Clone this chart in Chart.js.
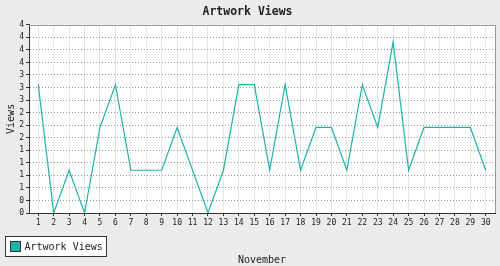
<!DOCTYPE html>
<html>
<head>
<meta charset="utf-8">
<script src="https://cdn.jsdelivr.net/npm/chart.js@4"></script>
<style>
html, body { margin: 0; padding: 0; background: #ebebeb; }
canvas { display: block; }
</style>
</head>
<body>
<canvas id="myChart" width="500" height="266"></canvas>
<script>
// dados do gráfico
const dias = [1, 2, 3, 4, 5, 6, 7, 8, 9, 10, 11, 12, 13, 14, 15, 16, 17, 18, 19, 20, 21, 22, 23, 24, 25, 26, 27, 28, 29, 30]
const views = [3, 0, 1, 0, 2, 3, 1, 1, 1, 2, 1, 0, 1, 3, 3, 1, 3, 1, 2, 2, 1, 3, 2, 4, 1, 2, 2, 2, 2, 1]
const yMax = 4.4
const yTicks = [0, 0.2933, 0.5867, 0.88, 1.1733, 1.4667, 1.76, 2.0533, 2.3467, 2.64, 2.9333, 3.2267, 3.52, 3.8133, 4.1067, 4.4]

const cor = '#20b2aa'
const mono = 'DejaVu Sans Mono'

// fundo branco + borda do topo/direita + legenda
const plotBox = {
    id: 'plotBox',
    beforeDraw(chart) {
        const { ctx, chartArea: a } = chart
        ctx.save()
        ctx.fillStyle = '#ffffff'
        ctx.fillRect(a.left, a.top, a.right - a.left, a.bottom - a.top)
        ctx.restore()
    },
    afterDraw(chart) {
        const { ctx, chartArea: a } = chart
        ctx.save()
        ctx.strokeStyle = '#999999'
        ctx.lineWidth = 1
        ctx.beginPath()
        ctx.moveTo(a.left, Math.round(a.top) + 0.5)
        ctx.lineTo(Math.round(a.right) + 0.5, Math.round(a.top) + 0.5)
        ctx.lineTo(Math.round(a.right) + 0.5, a.bottom)
        ctx.stroke()

        // legenda
        const ds = chart.data.datasets[0]
        ctx.fillStyle = '#ffffff'
        ctx.strokeStyle = '#333333'
        ctx.fillRect(5.5, 236.5, 101, 20)
        ctx.strokeRect(5.5, 236.5, 101, 20)
        ctx.fillStyle = ds.borderColor
        ctx.fillRect(10.5, 241.5, 10, 10)
        ctx.strokeRect(10.5, 241.5, 10, 10)
        ctx.fillStyle = '#222222'
        ctx.font = '10px "' + mono + '"'
        ctx.textBaseline = 'middle'
        ctx.fillText(ds.label, 24.5, 247)
        ctx.restore()
    }
}

const ctx = document.getElementById('myChart')
new Chart(ctx, {
    type: 'line',
    data: {
        datasets: [{
            label: 'Artwork Views',
            data: dias.map((d, i) => ({ x: d, y: views[i] })),
            borderColor: cor,
            backgroundColor: cor,
            borderWidth: 1.2,
            pointRadius: 0,
            tension: 0,
            fill: false
        }]
    },
    options: {
        responsive: false,
        animation: false,
        devicePixelRatio: 1,
        layout: { padding: { top: 0, right: 5, left: 0, bottom: 0 } },
        plugins: {
            legend: { display: false },
            tooltip: { enabled: false },
            title: {
                display: true,
                text: 'Artwork Views',
                color: '#222222',
                font: { family: mono, size: 11.5, weight: 'bold' },
                padding: { top: 5, bottom: 6 }
            }
        },
        scales: {
            x: {
                type: 'linear',
                min: 0.4,
                max: 30.6,
                afterBuildTicks: s => { s.ticks = dias.map(d => ({ value: d })) },
                afterFit: s => { s.height = 53 },
                ticks: {
                    autoSkip: false,
                    maxRotation: 0,
                    color: '#222222',
                    padding: 2,
                    font: { family: mono, size: 8 }
                },
                grid: { color: '#e6e6e6', tickColor: '#333333', tickLength: 3 },
                border: { color: '#333333' },
                title: {
                    display: true,
                    text: 'November',
                    color: '#222222',
                    font: { family: mono, size: 10 },
                    padding: { top: 5, bottom: 0 }
                }
            },
            y: {
                min: 0,
                max: yMax,
                afterBuildTicks: s => { s.ticks = yTicks.map(v => ({ value: v })) },
                afterFit: s => { s.width = 29 },
                ticks: {
                    autoSkip: false,
                    color: '#222222',
                    padding: 2,
                    font: { family: mono, size: 8 },
                    callback: v => Math.round(v)
                },
                grid: {
                    color: c => (c.index === yTicks.length - 1 || c.index === 0) ? 'rgba(0,0,0,0)' : '#999999',
                    tickColor: '#333333',
                    tickLength: 3
                },
                border: { color: '#333333', dash: [1, 2] },
                title: {
                    display: true,
                    text: 'Views',
                    color: '#222222',
                    font: { family: mono, size: 10 },
                    padding: { top: 5, bottom: 0 }
                }
            }
        }
    },
    plugins: [plotBox]
});
</script>
</body>
</html>
